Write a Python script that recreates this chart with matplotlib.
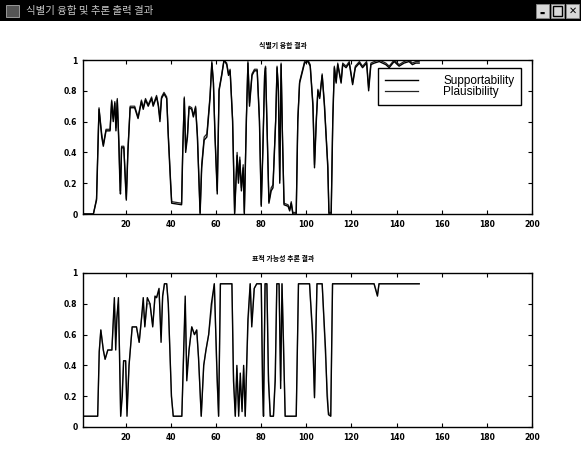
import matplotlib
matplotlib.use("Agg")
import matplotlib.pyplot as plt
from matplotlib.patches import Rectangle

# ---------------- data ----------------
window_title = "식별기 융합 및 추론 출력 결과"
top_title = "식별기 융합 결과"
bot_title = "표적 가능성 추론 결과"
series_names = ["Supportability", "Plausibility"]
x_ticks = [20, 40, 60, 80, 100, 120, 140, 160, 180, 200]
y_ticks = [0, 0.2, 0.4, 0.6, 0.8, 1]
y_tick_labels = ["0", "0.2", "0.4", "0.6", "0.8", "1"]

top_x = [1, 5.6, 7, 7.8, 8.1, 9.3, 10, 11.2, 13, 13.7, 14.4, 15.1, 15.6, 16.2, 16.9, 17.3,
         17.6, 18.1, 19.1, 19.8, 20.2, 20.9, 21.9, 23.9, 25.4, 26.9, 27.7, 28.7, 29.9, 31.4,
         32.1, 33.6, 34.4, 35.1, 35.8, 36.9, 38.1, 38.8, 39.8, 40.3, 44.7, 45.2, 45.9, 46.5,
         47.3, 48, 49.2, 49.9, 50.9, 51.7, 52.4, 52.9, 53.6, 54.7, 55.9, 57.3, 58.1, 58.8,
         59.5, 60.5, 61.3, 62.5, 63.5, 64.7, 65.5, 66.2, 67.3, 68.2, 69.3, 69.9, 70.5, 71.2,
         72, 72.5, 73.4, 74.1, 74.8, 75.9, 77, 78.2, 79.2, 80, 80.7, 81.5, 81.9, 82.5, 83.4,
         84.4, 85.2, 86.4, 87, 87.6, 88.2, 88.8, 89.4, 90.1, 91.9, 92.6, 93.3, 94, 95.5, 96.2,
         97, 99.2, 100.7, 101.7, 102.9, 103.6, 104.4, 105.1, 105.9, 107, 108, 109.5, 110, 111,
         111.7, 112.4, 113.2, 113.9, 115.4, 116.1, 117.6, 119, 120.5, 121.7, 123.5, 124.9,
         126.7, 127.6, 128.6, 130.1, 132.3, 135.2, 136.7, 138.9, 141.1, 143.3, 145.5, 147,
         148.5, 150]
top_support = [0.0, 0.0, 0.09, 0.53, 0.68, 0.5, 0.44, 0.54, 0.54, 0.73, 0.6, 0.72, 0.54, 0.74,
               0.45, 0.23, 0.13, 0.43, 0.43, 0.2, 0.09, 0.4, 0.69, 0.69, 0.62, 0.73, 0.68, 0.74,
               0.7, 0.75, 0.7, 0.76, 0.7, 0.6, 0.75, 0.78, 0.75, 0.5, 0.2, 0.07, 0.06, 0.4, 0.75,
               0.4, 0.5, 0.69, 0.68, 0.63, 0.69, 0.5, 0.2, 0.0, 0.3, 0.48, 0.5, 0.75, 0.98, 0.85,
               0.5, 0.13, 0.8, 0.9, 1.0, 0.97, 0.9, 0.93, 0.6, 0.0, 0.38, 0.2, 0.35, 0.15, 0.3,
               0.0, 0.6, 0.98, 0.7, 0.9, 0.93, 0.93, 0.6, 0.05, 0.4, 0.9, 0.95, 0.6, 0.07, 0.15,
               0.17, 0.6, 0.95, 0.8, 0.2, 0.97, 0.5, 0.06, 0.05, 0.02, 0.07, 0.0, 0.0, 0.6, 0.85,
               0.98, 0.99, 0.96, 0.7, 0.3, 0.6, 0.8, 0.75, 0.9, 0.7, 0.3, 0.0, 0.0, 0.6, 0.95,
               0.85, 0.97, 0.85, 0.97, 0.95, 0.98, 0.84, 0.95, 0.98, 0.95, 0.98, 0.8, 0.97, 0.98,
               0.99, 0.97, 0.95, 0.99, 0.96, 0.98, 0.99, 0.97, 0.98, 0.98]
top_plaus = [0.0, 0.0, 0.1, 0.55, 0.69, 0.52, 0.45, 0.55, 0.55, 0.74, 0.62, 0.73, 0.56, 0.75,
             0.47, 0.25, 0.15, 0.44, 0.44, 0.22, 0.1, 0.42, 0.7, 0.7, 0.63, 0.74, 0.69, 0.75,
             0.71, 0.76, 0.71, 0.77, 0.71, 0.62, 0.76, 0.79, 0.76, 0.52, 0.22, 0.08, 0.07, 0.42,
             0.76, 0.42, 0.52, 0.7, 0.69, 0.64, 0.7, 0.52, 0.22, 0.01, 0.32, 0.5, 0.52, 0.77,
             0.99, 0.86, 0.52, 0.15, 0.81, 0.91, 1.0, 0.98, 0.91, 0.94, 0.62, 0.01, 0.4, 0.22,
             0.37, 0.17, 0.32, 0.01, 0.62, 0.99, 0.72, 0.91, 0.94, 0.94, 0.62, 0.06, 0.42, 0.91,
             0.96, 0.62, 0.08, 0.17, 0.19, 0.62, 0.96, 0.82, 0.22, 0.98, 0.52, 0.07, 0.06, 0.03,
             0.08, 0.01, 0.01, 0.62, 0.86, 0.99, 1.0, 0.97, 0.72, 0.32, 0.62, 0.81, 0.76, 0.91,
             0.72, 0.32, 0.01, 0.01, 0.62, 0.96, 0.86, 0.98, 0.86, 0.98, 0.96, 0.99, 0.85, 0.96,
             0.99, 0.96, 0.99, 0.82, 0.98, 0.99, 1.0, 0.98, 0.96, 1.0, 0.97, 0.99, 1.0, 0.98,
             0.99, 0.99]

bot_x = [1, 7.5, 8.2, 8.9, 10, 10.8, 12, 13.8, 14.9, 15.5, 16, 16.7, 17.2, 17.7, 18.4, 19,
         19.9, 20.5, 21.4, 22.8, 24.7, 25.9, 26.9, 27.7, 28.4, 29.5, 30.7, 31.9, 32.9, 33.6,
         34.7, 35.6, 36.3, 37.1, 38.1, 38.8, 40.2, 41, 44.8, 46.3, 47, 48, 49.2, 50.4, 51.4,
         52.2, 53.4, 54.5, 55.5, 56.7, 57.9, 59.2, 60.4, 61.1, 61.9, 67, 67.7, 68.5, 69.2, 70,
         70.7, 71.5, 72.2, 72.9, 74.1, 75.1, 75.8, 76.9, 78, 80, 80.6, 81, 81.7, 82.5, 83.2,
         84, 85.4, 86.2, 86.9, 87.9, 88.6, 89.2, 89.9, 90.6, 95.5, 96.5, 101.4, 102.8, 103.6,
         104.7, 107, 108.5, 109.2, 109.8, 110.8, 111.6, 130, 131.5, 132.2, 150]
bot_support = [0.07, 0.07, 0.49, 0.63, 0.5, 0.44, 0.5, 0.5, 0.84, 0.5, 0.7, 0.84, 0.45, 0.07,
               0.2, 0.43, 0.43, 0.07, 0.4, 0.65, 0.65, 0.55, 0.7, 0.84, 0.65, 0.84, 0.8, 0.65,
               0.85, 0.84, 0.9, 0.55, 0.85, 0.93, 0.93, 0.8, 0.2, 0.07, 0.07, 0.85, 0.3, 0.5,
               0.65, 0.6, 0.63, 0.45, 0.07, 0.4, 0.5, 0.6, 0.8, 0.93, 0.35, 0.07, 0.93, 0.93,
               0.3, 0.07, 0.4, 0.07, 0.35, 0.1, 0.4, 0.07, 0.7, 0.93, 0.65, 0.9, 0.93, 0.93,
               0.25, 0.07, 0.93, 0.93, 0.3, 0.07, 0.07, 0.3, 0.93, 0.93, 0.25, 0.93, 0.5, 0.07,
               0.07, 0.93, 0.93, 0.6, 0.19, 0.93, 0.93, 0.5, 0.2, 0.08, 0.07, 0.93, 0.93, 0.85,
               0.93, 0.93]
bot_plaus = [0.07, 0.07, 0.49, 0.63, 0.5, 0.44, 0.5, 0.5, 0.8, 0.6, 0.72, 0.8, 0.5, 0.07,
             0.25, 0.43, 0.43, 0.12, 0.4, 0.65, 0.65, 0.55, 0.7, 0.8, 0.66, 0.8, 0.8, 0.66,
             0.84, 0.84, 0.88, 0.6, 0.85, 0.93, 0.93, 0.8, 0.2, 0.07, 0.07, 0.8, 0.35, 0.5,
             0.65, 0.6, 0.63, 0.45, 0.07, 0.4, 0.5, 0.6, 0.75, 0.93, 0.3, 0.07, 0.93, 0.93,
             0.35, 0.07, 0.38, 0.1, 0.3, 0.12, 0.38, 0.07, 0.65, 0.93, 0.68, 0.9, 0.93, 0.93,
             0.3, 0.07, 0.93, 0.93, 0.35, 0.07, 0.07, 0.35, 0.93, 0.93, 0.3, 0.93, 0.55, 0.07,
             0.07, 0.93, 0.93, 0.55, 0.2, 0.93, 0.93, 0.45, 0.25, 0.1, 0.07, 0.93, 0.93, 0.86,
             0.93, 0.93]

# ---------------- figure ----------------
W, H = 581, 475
fig = plt.figure(figsize=(W / 100, H / 100), dpi=100, facecolor="white")

KR = ["Noto Sans CJK KR", "DejaVu Sans"]

# window title bar
fig.patches.append(Rectangle((0, 1 - 21 / H), 1, 21 / H, transform=fig.transFigure,
                             facecolor="black", edgecolor="none", zorder=0))
fig.patches.append(Rectangle((6 / W, 1 - 17 / H), 13 / W, 12 / H, transform=fig.transFigure,
                             facecolor="#555555", edgecolor="#aaaaaa", lw=0.6, zorder=1))
fig.text(26 / W, 1 - 10.5 / H, window_title, color="#c8c8c8", fontsize=7.5,
         family=KR, ha="left", va="center")
for i, xs in enumerate([536, 551, 566]):
    fig.patches.append(Rectangle((xs / W, 1 - 18 / H), 13 / W, 14 / H, transform=fig.transFigure,
                                 facecolor="#d8d8d8", edgecolor="#888888", lw=0.6, zorder=1))
fig.patches.append(Rectangle((553 / W, 1 - 16 / H), 9 / W, 10 / H, transform=fig.transFigure,
                             facecolor="none", edgecolor="black", lw=1.0, zorder=2))
fig.text(572.5 / W, 1 - 11 / H, "✕", fontsize=7, ha="center", va="center",
         color="black", family="DejaVu Sans", fontweight="bold")
fig.text(542.5 / W, 1 - 13 / H, "▬", fontsize=4, ha="center", va="center",
         color="black", family="DejaVu Sans")

ax_w = (532 - 83) / W
ax_h = 154 / H
ax_top = fig.add_axes([83 / W, 1 - 214 / H, ax_w, ax_h])
ax_bot = fig.add_axes([83 / W, 1 - 427 / H, ax_w, ax_h])

def style(ax, title):
    ax.set_xlim(1, 200)
    ax.set_ylim(0, 1)
    ax.set_xticks(x_ticks)
    ax.set_xticklabels([str(t) for t in x_ticks])
    ax.set_yticks(y_ticks)
    ax.set_yticklabels(y_tick_labels)
    ax.tick_params(direction="in", length=3, width=0.8, labelsize=5.5,
                   top=True, right=True, pad=4)
    for lab in ax.get_xticklabels() + ax.get_yticklabels():
        lab.set_fontweight("bold")
    for sp in ax.spines.values():
        sp.set_linewidth(1.0)
        sp.set_color("black")
    ax.text(0.445, 1.07, title, transform=ax.transAxes, ha="center", va="bottom",
            fontsize=5, family=KR, fontweight="bold")

ax_top.plot(top_x, top_plaus, color="#222222", lw=0.9, label=series_names[1])
ax_top.plot(top_x, top_support, color="black", lw=1.0, label=series_names[0])
style(ax_top, top_title)
h, l = ax_top.get_legend_handles_labels()
leg = ax_top.legend(h[::-1], l[::-1], loc="upper right", bbox_to_anchor=(0.976, 0.948),
                    borderaxespad=0, fancybox=False, framealpha=1, edgecolor="black",
                    handlelength=2.8, handletextpad=2.1, borderpad=0.6, labelspacing=-0.1,
                    prop={"family": "Liberation Sans", "size": 8.5})
leg.get_frame().set_linewidth(1.0)

ax_bot.plot(bot_x, bot_plaus, color="#888888", lw=0.9)
ax_bot.plot(bot_x, bot_support, color="black", lw=1.0)
style(ax_bot, bot_title)

fig.savefig("out.png", dpi=100, facecolor="white")
